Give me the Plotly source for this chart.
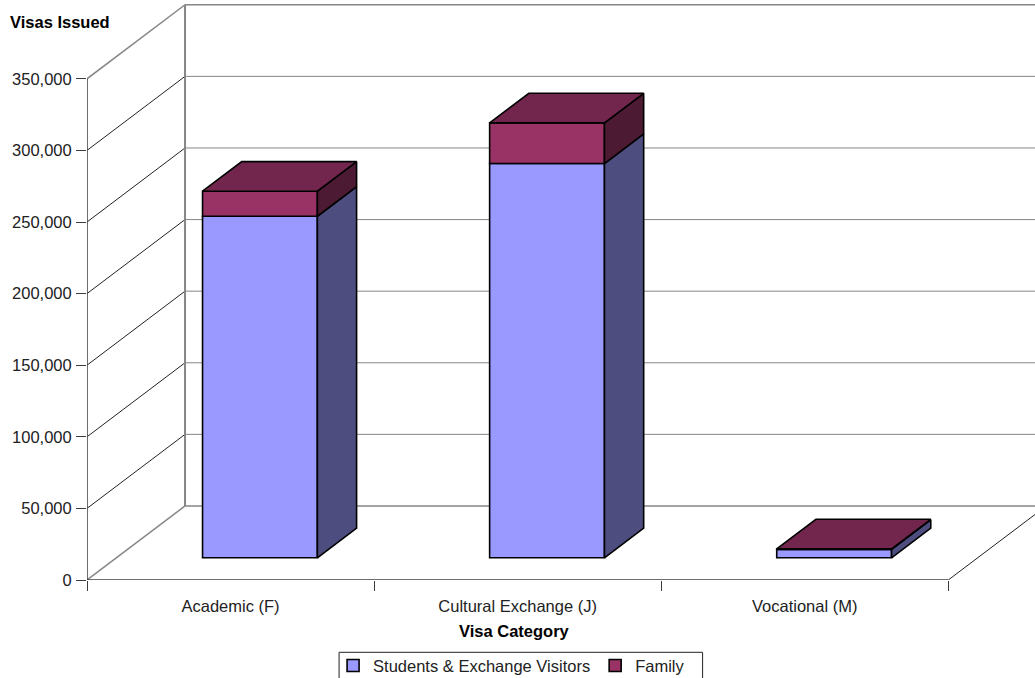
import plotly.graph_objects as go

categories = ["Academic (F)", "Cultural Exchange (J)", "Vocational (M)"]
students = [238500, 275300, 5800]
family = [17500, 28400, 400]
y_ticks = [0, 50000, 100000, 150000, 200000, 250000, 300000, 350000]

FONT = "Liberation Sans, Arial, sans-serif"
FS = 16.5
DEPTH_X = 98 / 287      # x-axis units per unit of chart depth
DEPTH_Y = 51700         # y-axis units per unit of chart depth
BAR_W = 0.4
D0, D1 = 0.3, 0.7       # depth span of the bars

STUDENT = dict(front="#9999FF", side="#4D4D80")
FAMILY = dict(front="#993366", side="#4D1A33", top="#73264D")

fig = go.Figure()
base0 = D0 * DEPTH_Y
off = -BAR_W / 2 + D0 * DEPTH_X
fig.add_bar(x=categories, y=students, base=[base0] * 3, width=BAR_W, offset=off,
            name="Students & Exchange Visitors",
            marker=dict(color=STUDENT["front"], line=dict(color="black", width=1.6)))
fig.add_bar(x=categories, y=family, base=[base0 + s for s in students], width=BAR_W, offset=off,
            name="Family",
            marker=dict(color=FAMILY["front"], line=dict(color="black", width=1.6)))

def face(xs, ys, color):
    fig.add_scatter(x=xs, y=ys, xaxis="x2", yaxis="y", mode="lines", fill="toself", fillcolor=color,
                    line=dict(color="black", width=1.6), showlegend=False, hoverinfo="skip")

dx, dy = (D1 - D0) * DEPTH_X, (D1 - D0) * DEPTH_Y
for i in range(len(categories)):
    xl = i + off
    xr = xl + BAR_W
    y0 = base0
    y1 = y0 + students[i]
    y2 = y1 + family[i]
    face([xr, xr + dx, xr + dx, xr, xr], [y0, y0 + dy, y1 + dy, y1, y0], STUDENT["side"])
    face([xr, xr + dx, xr + dx, xr, xr], [y1, y1 + dy, y2 + dy, y2, y1], FAMILY["side"])
    face([xl, xr, xr + dx, xl + dx, xl], [y2, y2, y2 + dy, y2 + dy, y2], FAMILY["top"])

n = len(categories)
left, right = -0.5, n - 0.5
xmax = left + (1035 - 87.3) / 287
bx, by = DEPTH_X, DEPTH_Y
GRAY = "#868686"
DARK = "#3C3C3C"

def seg(x0, y0, x1, y1, color, width):
    return dict(type="line", xref="x", yref="y", layer="below", x0=x0, y0=y0, x1=x1, y1=y1,
                line=dict(color=color, width=width))

shapes = []
top = y_ticks[-1]
for t in y_ticks[1:-1]:
    shapes.append(seg(left + bx, t + by, xmax, t + by, GRAY, 1))
    shapes.append(seg(left, t, left + bx, t + by, "#222222", 1))
shapes += [
    seg(left, top, left + bx, top + by, GRAY, 1.5),
    seg(left, 0, left + bx, by, GRAY, 1.5),
    seg(left + bx, by, xmax, by, GRAY, 1.5),
    seg(left + bx, top + by, xmax, top + by, GRAY, 1.5),
    seg(left + bx, 0 + by, left + bx, top + by, GRAY, 2),
    seg(right, 0, right + bx, by, "#222222", 1),
    seg(left, 0, left, top, DARK, 1.5),
    seg(left, 0, right, 0, DARK, 1.5),
]

PW, PH = 947.7, 580.0

# legend frame, which runs off the bottom of the picture as in the reference
shapes.append(dict(type="rect", xref="paper", yref="paper", layer="above",
                   x0=(339.3 - 87.3) / PW, x1=(702.7 - 87.3) / PW,
                   y0=(PH - 690) / PH, y1=(PH - 652.3) / PH,
                   line=dict(color="#222222", width=1), fillcolor="rgba(0,0,0,0)"))

fig.update_layout(
    width=1035, height=678, autosize=False,
    margin=dict(l=87.3, r=0, t=0, b=98, pad=0, autoexpand=False),
    paper_bgcolor="white", plot_bgcolor="white",
    font=dict(family=FONT, size=FS, color="#222222"),
    barmode="overlay",
    shapes=shapes,
    xaxis=dict(type="category", categoryorder="array", categoryarray=categories,
               range=[left, xmax], tickson="boundaries", ticks="outside", ticklen=10,
               tickcolor=DARK, tickwidth=1, showgrid=False, zeroline=False, showline=False,
               tickfont=dict(size=FS, family=FONT), ticklabelstandoff=14),
    xaxis2=dict(overlaying="x", range=[left, xmax], visible=False, anchor="y"),
    yaxis=dict(range=[0, PH / 71.6 * 50000], tickvals=y_ticks, tickformat=",",
               ticks="outside", ticklen=10, tickcolor=DARK, tickwidth=1,
               showgrid=False, zeroline=False, showline=False, automargin=False,
               tickfont=dict(size=FS, family=FONT), ticklabelstandoff=1),
    legend=dict(orientation="h", x=(333.3 - 87.3) / PW, y=(PH - 648.3) / PH,
                xanchor="left", yanchor="top", borderwidth=0,
                bgcolor="rgba(0,0,0,0)", font=dict(size=FS, family=FONT), traceorder="normal"),
    annotations=[
        dict(text="<b>Visas Issued</b>", xref="paper", yref="paper",
             x=(60 - 87.3) / PW, y=(PH - 22) / PH, xanchor="center", yanchor="middle",
             showarrow=False, font=dict(size=FS, family=FONT, color="black")),
        dict(text="<b>Visa Category</b>", xref="paper", yref="paper",
             x=(515 - 87.3) / PW, y=(PH - 631) / PH, xanchor="center", yanchor="middle",
             showarrow=False, font=dict(size=FS, family=FONT, color="black")),
    ],
)

fig.write_html("out.html", config=dict(displayModeBar=False),
               post_script="document.body.style.margin='0';")
